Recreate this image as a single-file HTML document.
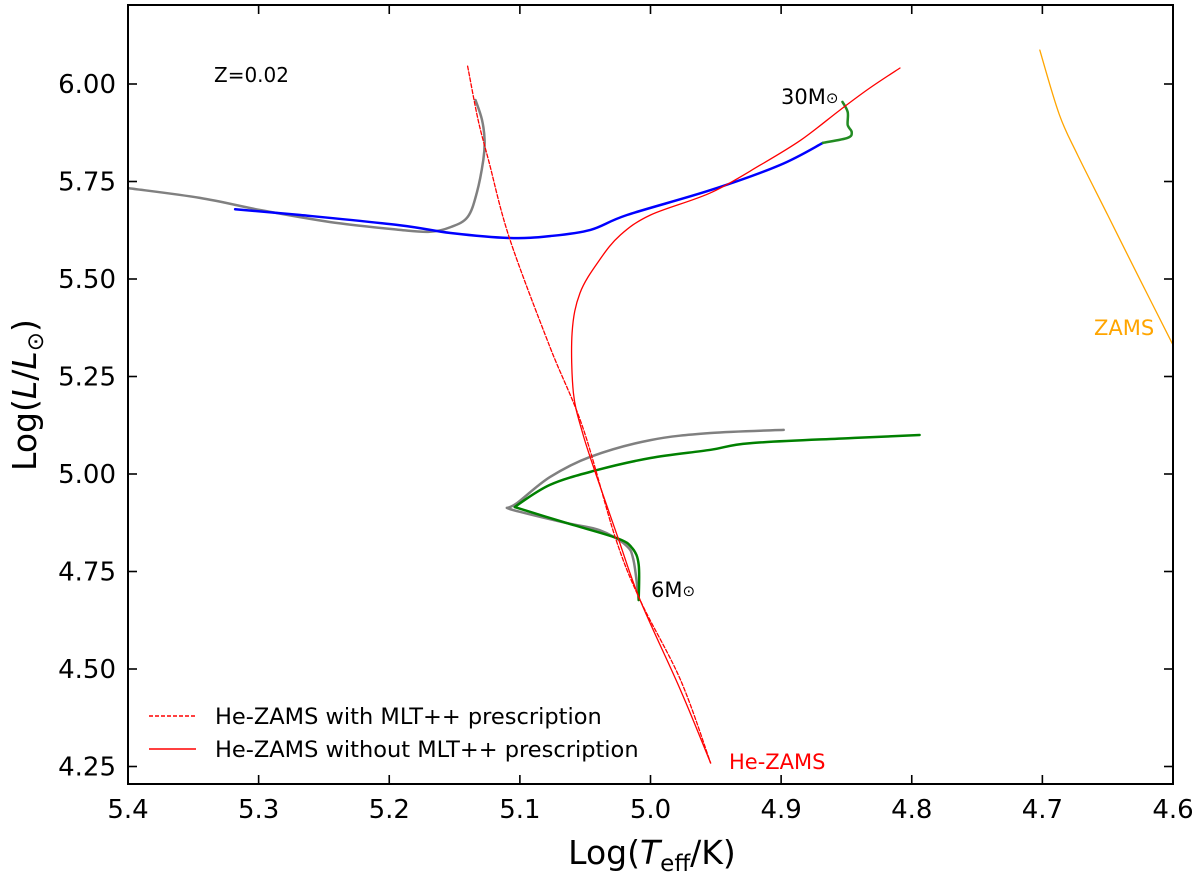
<!DOCTYPE html>
<html><head><meta charset="utf-8"><style>
html,body{margin:0;padding:0;background:#fff;}
svg{display:block;font-family:"DejaVu Sans","Liberation Sans",sans-serif;}
</style></head><body>
<svg id="chart" width="1200" height="878" viewBox="0 0 1200 878">
<g id="marks"></g>
<g id="axes"></g>
<text x="214" y="82" font-size="20">Z=0.02</text>
<text x="781" y="104" font-size="21">30M<tspan font-size="15" dy="-1">⊙</tspan></text>
<text x="651" y="597" font-size="21">6M<tspan font-size="15" dy="-1">⊙</tspan></text>
<text x="729" y="769" font-size="21" fill="#ff0000">He-ZAMS</text>
<text x="1094" y="335" font-size="21" fill="#ffa500">ZAMS</text>
<g>
<line x1="149" y1="716" x2="196" y2="716" stroke="#ff0000" stroke-width="1.5" stroke-dasharray="4,2"/>
<text x="215" y="724" font-size="22.5">He-ZAMS with MLT++ prescription</text>
<line x1="149" y1="749" x2="196" y2="749" stroke="#ff0000" stroke-width="1.5"/>
<text x="215" y="757" font-size="22.5">He-ZAMS without MLT++ prescription</text>
</g>
<text x="652" y="864" font-size="33" text-anchor="middle">Log(<tspan font-style="italic">T</tspan><tspan font-size="23" dy="7">eff</tspan><tspan dy="-7">/K)</tspan></text>
<text transform="translate(36,395) rotate(-90)" font-size="33" text-anchor="middle">Log(<tspan font-style="italic">L</tspan>/<tspan font-style="italic">L</tspan><tspan font-size="23" dy="7">⊙</tspan><tspan dy="-7">)</tspan></text>
</svg>
<script>
const xTicks=[5.4,5.3,5.2,5.1,5.0,4.9,4.8,4.7,4.6];
const yTicks=[4.25,4.50,4.75,5.00,5.25,5.50,5.75,6.00];
const heZamsMltT=[5.140,5.132,5.124,5.108,5.077,5.052,5.027,5.008,4.977,4.954];
const heZamsMltL=[6.046,5.908,5.805,5.605,5.326,5.121,4.838,4.677,4.472,4.259];
const heZamsT=[4.809,4.832,4.855,4.885,4.916,4.954,5.000,5.023,5.039,5.054,5.060,5.059,5.052,5.041,5.025,5.008,4.977,4.954];
const heZamsL=[6.041,5.990,5.933,5.856,5.792,5.721,5.664,5.613,5.549,5.464,5.362,5.208,5.105,4.992,4.838,4.677,4.446,4.259];
const green30T=[4.853,4.849,4.849,4.846,4.849,4.868];
const green30L=[5.954,5.928,5.895,5.877,5.862,5.849];
const blue30T=[5.318,5.268,5.192,5.153,5.108,5.077,5.046,5.018,4.954,4.901,4.868];
const blue30L=[5.679,5.664,5.638,5.618,5.605,5.610,5.626,5.664,5.728,5.792,5.849];
const gray30T=[5.400,5.345,5.299,5.245,5.192,5.169,5.153,5.140,5.133,5.128,5.127,5.129,5.134];
const gray30L=[5.733,5.708,5.677,5.646,5.626,5.621,5.633,5.659,5.721,5.805,5.856,5.908,5.959];
const green6T=[4.794,4.847,4.924,4.954,5.000,5.041,5.077,5.104,5.064,5.026,5.014,5.009,5.009];
const green6L=[5.100,5.092,5.079,5.062,5.041,5.010,4.972,4.915,4.874,4.836,4.810,4.767,4.677];
const gray6T=[4.898,4.954,5.000,5.046,5.077,5.102,5.110,5.100,5.064,5.039,5.019,5.013,5.009];
const gray6L=[5.113,5.105,5.087,5.044,4.992,4.926,4.913,4.903,4.874,4.856,4.818,4.779,4.677];
const zamsT=[4.702,4.687,4.673,4.650,4.627,4.600];
const zamsL=[6.087,5.921,5.818,5.664,5.510,5.331];

const X0=128,X1=1173,Y0=5,Y1=784;
function xs(t){return X0+(5.4-t)/0.8*(X1-X0);}
function ys(l){return 84-(l-6)*390;}
const NS="http://www.w3.org/2000/svg";
const marks=document.getElementById('marks');
const axes=document.getElementById('axes');
function mk(tag,attrs,parent){const e=document.createElementNS(NS,tag);for(const k in attrs)e.setAttribute(k,attrs[k]);parent.appendChild(e);return e;}
function curve(T,L,color,w,dash,name,sharp){
  const P=T.map((t,i)=>[xs(t),ys(L[i])]);
  let d='M'+P[0][0].toFixed(1)+','+P[0][1].toFixed(1);
  for(let i=0;i<P.length-1;i++){
    const p0=P[Math.max(0,i-1)],p1=P[i],p2=P[i+1],p3=P[Math.min(P.length-1,i+2)];
    const s=(sharp&&sharp.includes(i))?0:1, s2=(sharp&&sharp.includes(i+1))?0:1;
    const c1=[p1[0]+s*(p2[0]-p0[0])/6,p1[1]+s*(p2[1]-p0[1])/6];
    const c2=[p2[0]-s2*(p3[0]-p1[0])/6,p2[1]-s2*(p3[1]-p1[1])/6];
    d+='C'+c1[0].toFixed(1)+','+c1[1].toFixed(1)+' '+c2[0].toFixed(1)+','+c2[1].toFixed(1)+' '+p2[0].toFixed(1)+','+p2[1].toFixed(1);
  }
  const p=mk('path',{d:d,fill:'none',stroke:color,'stroke-width':w,'stroke-linejoin':'round','stroke-linecap':'round'},marks);
  if(dash)p.setAttribute('stroke-dasharray',dash);
  
  
}
const cp=mk('clipPath',{id:'clip'},marks);mk('rect',{x:X0,y:Y0,width:X1-X0,height:Y1-Y0},cp);
marks.setAttribute('clip-path','url(#clip)');
curve(gray30T,gray30L,'#808080',2.5,null,'track-30msun-gray');
curve(blue30T,blue30L,'#0000ff',2.5,null,'track-30msun-blue');
curve(green30T,green30L,'#228b22',2.5,null,'track-30msun-green');
curve(gray6T,gray6L,'#808080',2.5,null,'track-6msun-gray',[6]);
curve(green6T,green6L,'#008000',2.5,null,'track-6msun-green',[7]);
curve(heZamsMltT,heZamsMltL,'#ff0000',1.3,'4,2','he-zams-mlt-line');
curve(heZamsT,heZamsL,'#ff0000',1.3,null,'he-zams-line');
curve(zamsT,zamsL,'#ffa500',1.3,null,'zams-line');

const fr=mk('rect',{x:X0,y:Y0,width:X1-X0,height:Y1-Y0,fill:'none',stroke:'#000','stroke-width':2},axes);


xTicks.forEach(t=>{
  const x=xs(t);
  mk('line',{x1:x,y1:Y1,x2:x,y2:Y1-9,stroke:'#000','stroke-width':1.6},axes);
  mk('line',{x1:x,y1:Y0,x2:x,y2:Y0+9,stroke:'#000','stroke-width':1.6},axes);
  const tx=mk('text',{x:x,y:Y1+34,'font-size':26,'text-anchor':'middle'},axes);
  tx.textContent=t.toFixed(1);
  
  
});
yTicks.forEach(v=>{
  const y=ys(v);
  mk('line',{x1:X0,y1:y,x2:X0+9,y2:y,stroke:'#000','stroke-width':1.6},axes);
  mk('line',{x1:X1,y1:y,x2:X1-9,y2:y,stroke:'#000','stroke-width':1.6},axes);
  const tx=mk('text',{x:X0-12,y:y+9,'font-size':26,'text-anchor':'end'},axes);
  tx.textContent=v.toFixed(2);
  
  
});
</script>
</body></html>
